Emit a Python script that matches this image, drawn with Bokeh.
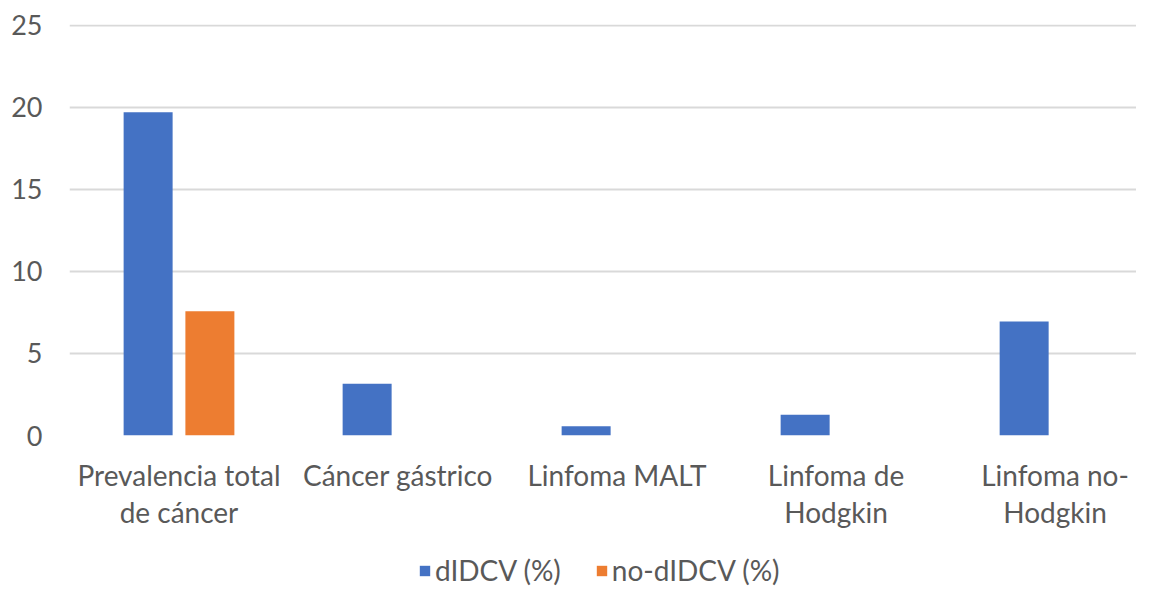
import numpy as np
from bokeh.plotting import figure
from bokeh.layouts import column
from bokeh.models import (ColumnDataSource, Range1d, FixedTicker, Legend, LegendItem)
from bokeh.transform import dodge
from bokeh.embed import file_html
from bokeh.resources import INLINE

categories = ["Prevalencia total\nde cáncer", "Cáncer gástrico", "Linfoma MALT",
              "Linfoma de\nHodgkin", "Linfoma no-\nHodgkin"]
didcv = [19.7, 3.15, 0.57, 1.26, 6.95]
no_didcv = [7.58, 0, 0, 0, 0]
series_names = ["dIDCV (%)", "no-dIDCV (%)"]
series_colors = ["#4472C4", "#ED7D31"]
y_ticks = [0, 5, 10, 15, 20, 25]

idx = list(range(len(categories)))
src = ColumnDataSource(dict(x=idx, a=didcv, b=no_didcv))

FONT = "Lato"
TXT = "#595959"

p = figure(width=1136, height=545, output_backend="svg", toolbar_location=None,
           x_range=Range1d(-0.5, 4.372), y_range=Range1d(0, 25.05),
           min_border_left=69, min_border_top=24, min_border_right=0, min_border_bottom=110)
p.outline_line_color = None
p.background_fill_color = "white"
p.border_fill_color = "white"

bw = 0.2237
off = 0.141
p.vbar(x=dodge("x", -off, range=p.x_range), top="a", width=bw, source=src,
       fill_color=series_colors[0], line_color=None)
p.vbar(x=dodge("x", off, range=p.x_range), top="b", width=bw, source=src,
       fill_color=series_colors[1], line_color=None)

p.xgrid.visible = False
p.ygrid.grid_line_color = "#D9D9D9"
p.ygrid.grid_line_width = 2
p.yaxis.ticker = FixedTicker(ticks=y_ticks)
p.xaxis.ticker = FixedTicker(ticks=idx)
p.xaxis.major_label_overrides = {i: c for i, c in zip(idx, categories)}

for ax in (p.xaxis, p.yaxis):
    ax.axis_line_color = None
    ax.major_tick_line_color = None
    ax.minor_tick_line_color = None
    ax.major_tick_out = 0
    ax.major_tick_in = 0
    ax.major_label_text_font = FONT
    ax.major_label_text_color = TXT
p.yaxis.major_label_text_font_size = "27px"
p.xaxis.major_label_text_font_size = "28px"
p.yaxis.major_label_standoff = 27
p.xaxis.major_label_standoff = 22
p.xaxis.major_label_text_line_height = 1.1

# legend strip (separate small figure so the legend is not clipped)
lg = figure(width=1136, height=42, output_backend="svg", toolbar_location=None,
            x_range=Range1d(0, 1), y_range=Range1d(0, 1),
            min_border_left=0, min_border_right=0, min_border_top=0, min_border_bottom=0)
lg.axis.visible = False
lg.grid.visible = False
lg.outline_line_color = None
lg.background_fill_color = "white"
lg.border_fill_color = "white"
# placeholder rows lying outside the visible range; only their legend swatches show
dummy = ColumnDataSource(dict(x=[-5], top=[0]))
items = []
for name, col in zip(series_names, series_colors):
    r = lg.vbar(x="x", top="top", width=0.1, source=dummy, fill_color=col, line_color=None)
    items.append(LegendItem(label=name, renderers=[r]))
legend = Legend(items=items, orientation="horizontal", location=(349, 0),
                label_text_font=FONT, label_text_font_size="28px",
                label_text_color=TXT, glyph_width=13, glyph_height=13,
                label_standoff=4, spacing=34, border_line_color=None,
                background_fill_alpha=0, padding=0, margin=0)
lg.add_layout(legend, "center")

layout = column(p, lg, spacing=0)
open("out.html", "w").write(file_html(layout, INLINE))
